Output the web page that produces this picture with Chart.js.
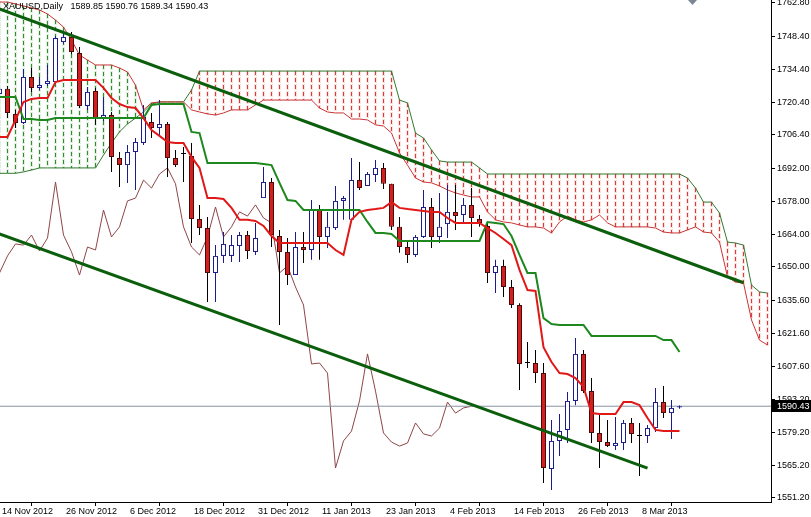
<!DOCTYPE html>
<html>
<head>
<meta charset="utf-8">
<title>XAUUSD Daily</title>
<script src="https://cdn.jsdelivr.net/npm/chart.js@4.4.1/dist/chart.umd.min.js"></script>
<style>
  html, body { margin: 0; padding: 0; background: #fff; }
</style>
</head>
<body>
<canvas id="grafico" width="811" height="517"></canvas>
<script>

/* --------------- datos del grafico --------------- */

const simbolo = 'XAUUSD,Daily';

const fechas = ['14 Nov 2012', '26 Nov 2012', '6 Dec 2012', '18 Dec 2012', '31 Dec 2012', '11 Jan 2013',
                '23 Jan 2013', '4 Feb 2013', '14 Feb 2013', '26 Feb 2013', '8 Mar 2013'];
const fechasIdx = [0, 8, 16, 24, 32, 40, 48, 56, 64, 72, 80];

const precios = [1762.80, 1748.40, 1734.40, 1720.40, 1706.40, 1692.00, 1678.00, 1664.00,
                 1650.00, 1635.60, 1621.60, 1607.60, 1593.20, 1579.20, 1565.20, 1551.20];

const opens = [
  1723.9, 1726.1, 1715.4, 1711.5, 1731.2, 1726.5, 1728.2, 1729.0, 1746.1, 1748.3,
  1741.4, 1718.8, 1725.2, 1713.2, 1714.9, 1696.5, 1693.5, 1699.1, 1703.0, 1711.9,
  1709.4, 1711.1, 1696.5, 1698.2, 1697.4, 1670.5, 1666.6, 1647.4, 1654.7, 1654.7,
  1658.9, 1663.6, 1656.4, 1679.4, 1686.3, 1663.2, 1656.4, 1646.5, 1658.5, 1657.2,
  1674.3, 1662.8, 1666.6, 1678.2, 1670.1, 1687.1, 1684.6, 1689.3, 1692.3, 1685.5,
  1667.1, 1658.5, 1655.1, 1662.8, 1675.6, 1662.8, 1668.3, 1673.5, 1672.2, 1676.5,
  1670.5, 1667.5, 1647.4, 1650.4, 1641.4, 1633.7, 1608.9, 1608.9, 1604.6, 1563.6,
  1575.6, 1580.3, 1592.7, 1612.8, 1596.9, 1579.0, 1575.1, 1573.4, 1574.7, 1583.3,
  1577.7, 1577.7, 1581.1, 1592.2, 1587.5, 1589.85];

const highs = [
  1727.7, 1727.3, 1717.1, 1734.6, 1735.0, 1731.2, 1736.3, 1748.7, 1749.9, 1750.4,
  1744.0, 1726.9, 1726.5, 1722.6, 1716.2, 1699.1, 1702.1, 1705.1, 1719.2, 1715.8,
  1721.3, 1711.9, 1700.0, 1701.2, 1703.0, 1676.5, 1671.3, 1659.3, 1664.9, 1663.6,
  1664.9, 1665.3, 1668.8, 1692.7, 1688.0, 1665.8, 1662.3, 1664.9, 1664.9, 1678.6,
  1676.5, 1673.5, 1684.6, 1680.3, 1696.5, 1694.8, 1690.6, 1695.7, 1694.4, 1685.5,
  1671.3, 1661.5, 1663.6, 1682.9, 1679.4, 1681.6, 1685.0, 1685.0, 1679.4, 1683.7,
  1672.2, 1668.8, 1653.0, 1653.0, 1644.4, 1634.5, 1617.9, 1614.5, 1608.9, 1584.5,
  1587.1, 1596.5, 1619.6, 1614.5, 1602.5, 1586.7, 1584.5, 1585.8, 1584.5, 1585.4,
  1583.3, 1582.4, 1598.2, 1599.1, 1593.1, 1590.76];

const lows = [
  1717.1, 1713.6, 1709.4, 1711.1, 1724.8, 1725.6, 1727.3, 1728.2, 1745.3, 1741.0,
  1717.9, 1717.1, 1710.7, 1712.4, 1690.6, 1684.1, 1685.9, 1682.9, 1702.1, 1705.1,
  1706.4, 1688.4, 1692.7, 1686.3, 1660.2, 1663.6, 1635.0, 1635.0, 1651.7, 1652.1,
  1652.1, 1653.4, 1655.1, 1679.4, 1658.5, 1625.2, 1642.2, 1646.5, 1651.7, 1653.0,
  1653.0, 1658.1, 1665.8, 1670.1, 1670.1, 1682.9, 1684.6, 1686.3, 1683.3, 1665.8,
  1656.0, 1651.7, 1654.2, 1662.3, 1658.1, 1660.2, 1662.3, 1665.8, 1668.8, 1662.8,
  1667.1, 1643.1, 1638.8, 1637.1, 1632.4, 1597.4, 1606.8, 1600.4, 1557.6, 1554.6,
  1569.2, 1574.7, 1590.9, 1596.1, 1574.7, 1564.0, 1573.0, 1571.7, 1571.7, 1574.7,
  1560.6, 1574.7, 1579.4, 1585.4, 1576.4, 1589.34];

const closes = [
  1726.1, 1715.8, 1711.5, 1731.2, 1726.5, 1727.7, 1729.5, 1747.8, 1748.3, 1741.9,
  1718.8, 1724.8, 1713.6, 1714.9, 1697.0, 1693.5, 1699.1, 1703.4, 1714.1, 1709.4,
  1711.1, 1696.5, 1693.5, 1698.2, 1670.5, 1666.6, 1647.4, 1654.7, 1659.8, 1659.3,
  1663.6, 1656.8, 1662.3, 1686.3, 1663.6, 1656.4, 1646.5, 1658.5, 1657.2, 1674.3,
  1662.8, 1667.1, 1678.2, 1679.4, 1687.1, 1683.7, 1689.7, 1692.3, 1685.5, 1667.1,
  1658.5, 1655.1, 1662.8, 1675.6, 1662.8, 1667.1, 1673.5, 1671.7, 1676.5, 1670.9,
  1668.8, 1647.4, 1650.4, 1641.4, 1633.7, 1608.5, 1608.9, 1604.6, 1564.0, 1575.6,
  1579.8, 1592.7, 1612.8, 1596.9, 1579.0, 1575.1, 1573.4, 1574.7, 1583.3, 1578.6,
  1577.7, 1581.1, 1592.2, 1587.5, 1589.7, 1590.43];

// ichimoku: tenkan (rojo), kijun (verde)
const tenkan = [
  1705.5, 1705.5, 1712.8, 1720.5, 1721.8, 1722.2, 1722.2, 1729.0, 1729.9, 1729.9,
  1729.9, 1729.9, 1729.9, 1726.5, 1722.2, 1719.6, 1718.3, 1717.9, 1713.6, 1708.5,
  1706.0, 1703.4, 1703.0, 1703.0, 1697.0, 1692.3, 1679.4, 1679.4, 1679.0, 1675.2,
  1670.1, 1670.1, 1669.6, 1667.5, 1663.2, 1660.2, 1660.2, 1660.2, 1660.2, 1660.2,
  1660.2, 1660.2, 1657.2, 1655.1, 1670.1, 1673.5, 1674.3, 1674.7, 1675.2, 1677.7,
  1675.2, 1674.7, 1674.3, 1673.9, 1673.5, 1673.5, 1670.9, 1668.8, 1668.8, 1668.8,
  1668.8, 1666.6, 1664.5, 1661.9, 1659.3, 1648.7, 1640.1, 1639.7, 1615.7, 1609.3,
  1604.6, 1604.2, 1602.5, 1598.7, 1587.5, 1587.1, 1587.1, 1587.1, 1592.2, 1592.2,
  1590.9, 1585.4, 1580.3, 1579.8, 1579.8, 1579.8];

const kijun = [
  1722.6, 1722.6, 1722.6, 1713.2, 1713.2, 1712.8, 1712.8, 1713.6, 1713.6, 1713.6,
  1713.6, 1713.6, 1713.6, 1713.6, 1713.6, 1713.6, 1713.6, 1713.6, 1713.6, 1719.2,
  1719.6, 1719.6, 1719.6, 1719.6, 1707.7, 1707.2, 1694.4, 1694.4, 1694.4, 1694.4,
  1694.4, 1694.4, 1694.4, 1694.0, 1693.5, 1685.9, 1678.6, 1678.2, 1674.3, 1674.3,
  1674.3, 1674.3, 1674.3, 1674.3, 1674.3, 1674.3, 1669.2, 1664.5, 1664.5, 1664.1,
  1661.1, 1661.1, 1661.1, 1661.1, 1661.1, 1661.1, 1661.1, 1661.1, 1661.1, 1661.1,
  1661.1, 1669.2, 1668.8, 1668.3, 1663.2, 1655.1, 1647.4, 1647.4, 1628.1, 1625.6,
  1625.2, 1625.2, 1625.2, 1625.2, 1620.5, 1620.5, 1620.5, 1620.5, 1620.5, 1620.5,
  1620.5, 1620.5, 1620.5, 1618.7, 1618.7, 1613.6];

// nube (ya desplazada 26 barras)
const senkouA = [
  1763.2, 1763.2, 1762.4, 1761.5, 1760.7, 1759.8, 1758.1, 1755.5, 1752.5, 1747.0,
  1740.6, 1738.4, 1736.3, 1736.3, 1736.3, 1735.0, 1733.3, 1727.7, 1717.1, 1720.1,
  1720.5, 1720.5, 1720.5, 1720.5, 1717.1, 1716.2, 1715.4, 1714.9, 1715.8, 1717.1,
  1717.1, 1717.1, 1719.2, 1721.3, 1721.3, 1721.3, 1721.3, 1721.3, 1721.3, 1721.3,
  1717.9, 1716.2, 1715.8, 1715.8, 1713.2, 1713.2, 1712.8, 1710.7, 1710.2, 1707.2,
  1698.7, 1693.5, 1688.0, 1686.3, 1685.9, 1684.6, 1682.9, 1681.6, 1680.7, 1679.9,
  1679.9, 1673.5, 1670.1, 1669.2, 1668.8, 1667.9, 1667.1, 1667.1, 1666.6, 1664.5,
  1669.2, 1671.7, 1670.1, 1669.2, 1670.1, 1672.2, 1668.8, 1667.1, 1667.1, 1667.1,
  1667.1, 1667.1, 1666.6, 1664.9, 1664.5, 1664.5, 1665.8, 1667.1, 1664.9, 1664.5,
  1660.6, 1645.7, 1643.5, 1643.1, 1627.3, 1618.7, 1616.6];

const senkouB = [
  1690.0, 1690.0, 1690.0, 1690.6, 1691.4, 1692.3, 1692.3, 1692.3, 1692.3, 1692.3,
  1692.3, 1692.3, 1692.3, 1697.8, 1703.0, 1707.7, 1711.1, 1713.6, 1716.2, 1719.6,
  1720.5, 1720.5, 1720.5, 1720.5, 1725.6, 1733.7, 1733.7, 1733.7, 1733.7, 1733.7,
  1733.7, 1733.7, 1733.7, 1733.7, 1733.7, 1733.7, 1733.7, 1733.7, 1733.7, 1733.7,
  1733.7, 1733.7, 1733.7, 1733.7, 1733.7, 1733.7, 1733.7, 1733.7, 1733.7, 1733.7,
  1721.3, 1720.1, 1707.2, 1705.1, 1700.0, 1695.3, 1694.8, 1694.8, 1694.8, 1694.8,
  1692.3, 1689.7, 1689.7, 1689.7, 1689.7, 1689.7, 1689.7, 1689.7, 1689.7, 1689.7,
  1689.7, 1689.7, 1689.7, 1689.7, 1689.7, 1689.7, 1689.7, 1689.7, 1689.7, 1689.7,
  1689.7, 1689.7, 1689.7, 1689.7, 1689.7, 1689.7, 1688.0, 1683.7, 1677.7, 1677.7,
  1673.0, 1660.6, 1660.2, 1659.3, 1642.2, 1639.3, 1638.8];

// lineas de tendencia: [barra, precio]
const canalSup = [[0, 1760.3], [93, 1643.2]];
const canalInf = [[0, 1664.1], [81, 1564.0]];

const desplazamiento = 26;

/* --------------- configuracion del grafico --------------- */

const xMin = 0.0625, xMax = 96.4375;
const yMin = 1549.49, yMax = 1764.08;
const ultimo = closes.length - 1;
const fuente = '"Liberation Sans", Arial, sans-serif';

const puntos = (arr, desde = 0) => arr.map((v, i) => ({ x: i + desde, y: v }));
const alcista = i => closes[i] > opens[i];
const bajista = i => closes[i] < opens[i];

const linea = (label, data, color, ancho, orden) => ({
    type: 'line', label, data,
    borderColor: color, borderWidth: ancho,
    pointRadius: 0, tension: 0, fill: false, order: orden
});

// rayado vertical de la nube, sobre las barras que calcula chart.js
const nube = {
    id: 'nube',
    beforeDatasetsDraw(chart) {
        const k = chart.data.datasets.findIndex(d => d.label === 'Nube');
        const meta = chart.getDatasetMeta(k);
        const { ctx, chartArea } = chart;
        ctx.save();
        ctx.beginPath();
        ctx.rect(chartArea.left, chartArea.top, chartArea.width, chartArea.height);
        ctx.clip();
        meta.data.forEach((el, i) => {
            const arriba = Math.round(Math.min(el.y, el.base));
            const abajo = Math.round(Math.max(el.y, el.base));
            if (abajo - arriba < 1) return;
            const verde = senkouA[i] >= senkouB[i];
            const xi = Math.floor(el.x);
            for (let yy = arriba; yy < abajo; yy += 7) {
                const h = Math.min(4, abajo - yy);
                // halo suave, como en la captura original
                ctx.fillStyle = verde ? 'rgba(46,139,46,0.14)' : 'rgba(235,70,70,0.16)';
                ctx.fillRect(xi - 1, yy - 1, 3, h + 2);
                ctx.fillStyle = verde ? '#2f8c2f' : '#dc3a3a';
                ctx.fillRect(xi, yy, 1, h);
            }
        });
        ctx.restore();
    }
};

const decor = {
    id: 'decor',
    afterDraw(chart) {
        const { ctx, chartArea, scales: { y } } = chart;
        ctx.save();
        ctx.font = '9px ' + fuente;
        ctx.textBaseline = 'middle';
        ctx.fillStyle = '#000';
        const t = [opens, highs, lows, closes].map(a => a[ultimo].toFixed(2)).join(' ');
        ctx.fillText(simbolo + '   ' + t, 3, 7);

        // etiqueta del ultimo precio
        const py = Math.round(y.getPixelForValue(closes[ultimo]));
        ctx.fillStyle = '#000';
        ctx.fillRect(chartArea.right + 1, py - 6, 40, 12);
        ctx.fillStyle = '#fff';
        ctx.fillText(closes[ultimo].toFixed(2), chartArea.right + 6, py + 0.5);

        // marca de desplazamiento
        ctx.fillStyle = '#7b8794';
        ctx.beginPath();
        ctx.moveTo(688, 0); ctx.lineTo(697, 0); ctx.lineTo(692.5, 5);
        ctx.closePath(); ctx.fill();
        ctx.restore();
    }
};

const datos = {
    datasets: [
        linea('Canal superior', canalSup.map(p => ({ x: p[0], y: p[1] })), '#0b5e0b', 3, 1),
        linea('Canal inferior', canalInf.map(p => ({ x: p[0], y: p[1] })), '#0b5e0b', 3, 1),
        linea('Tenkan', puntos(tenkan), '#e01818', 2, 2),
        linea('Kijun', puntos(kijun), '#1d881d', 2, 3),
        {
            type: 'bar', label: 'Cuerpos',
            data: closes.map((c, i) => ({ x: i, y: [opens[i], c] })),
            backgroundColor: ctx => alcista(ctx.dataIndex) ? '#ffffff' : bajista(ctx.dataIndex) ? '#d22020' : '#000000',
            borderColor: ctx => alcista(ctx.dataIndex) ? '#1c1c8c' : bajista(ctx.dataIndex) ? '#4a0a0a' : '#000000',
            borderWidth: 1, borderSkipped: false, inflateAmount: 0,
            barThickness: 5, minBarLength: 1, grouped: false, order: 5
        },
        {
            type: 'bar', label: 'Mechas',
            data: closes.map((c, i) => ({ x: i, y: [lows[i], highs[i]] })),
            backgroundColor: ctx => alcista(ctx.dataIndex) ? '#1c1c8c' : '#000000',
            borderWidth: 0, inflateAmount: 0, barThickness: 1, grouped: false, order: 6
        },
        linea('Precio', [{ x: xMin, y: closes[ultimo] }, { x: xMax, y: closes[ultimo] }], '#8595a5', 1, 7),
        linea('Chikou', puntos(closes.slice(desplazamiento)), '#8e4646', 1, 8),
        linea('Senkou A', puntos(senkouA), '#c83434', 1, 9),
        linea('Senkou B', puntos(senkouB), '#2f7a2f', 1, 9),
        {
            type: 'bar', label: 'Nube',
            data: senkouA.map((a, i) => ({ x: i, y: [a, senkouB[i]] })),
            backgroundColor: 'rgba(0,0,0,0)',
            borderWidth: 0, inflateAmount: 0, barThickness: 1, grouped: false, order: 10
        }
    ]
};

const config = {
    type: 'bar',
    data: datos,
    options: {
        responsive: false,
        animation: false,
        events: [],
        layout: { padding: 0 },
        plugins: {
            legend: { display: false },
            tooltip: { enabled: false }
        },
        scales: {
            x: {
                type: 'linear', min: xMin, max: xMax, offset: false,
                grid: { drawOnChartArea: false, drawTicks: true, tickLength: 4, color: '#000' },
                border: { color: '#000', width: 1 },
                ticks: {
                    autoSkip: false, maxRotation: 0, minRotation: 0, align: 'start', padding: 0,
                    color: '#000', font: { family: fuente, size: 9 },
                    callback: v => { const k = fechasIdx.indexOf(v); return k < 0 ? '' : ' ' + fechas[k]; }
                },
                afterBuildTicks: s => { s.ticks = fechasIdx.map(v => ({ value: v })); },
                afterFit: s => { s.height = 15; s.paddingLeft = 0; s.paddingRight = 0; }
            },
            y: {
                type: 'linear', position: 'right', min: yMin, max: yMax,
                grid: { drawOnChartArea: false, drawTicks: true, tickLength: 4, color: '#000' },
                border: { color: '#000', width: 1 },
                ticks: {
                    padding: 2, color: '#000', font: { family: fuente, size: 9 },
                    callback: v => v.toFixed(2)
                },
                afterBuildTicks: s => { s.ticks = precios.map(v => ({ value: v })); },
                afterFit: s => { s.width = 40; s.paddingTop = 0; s.paddingBottom = 0; }
            }
        }
    },
    plugins: [nube, decor]
};

new Chart(document.getElementById('grafico'), config);

</script>
</body>
</html>
